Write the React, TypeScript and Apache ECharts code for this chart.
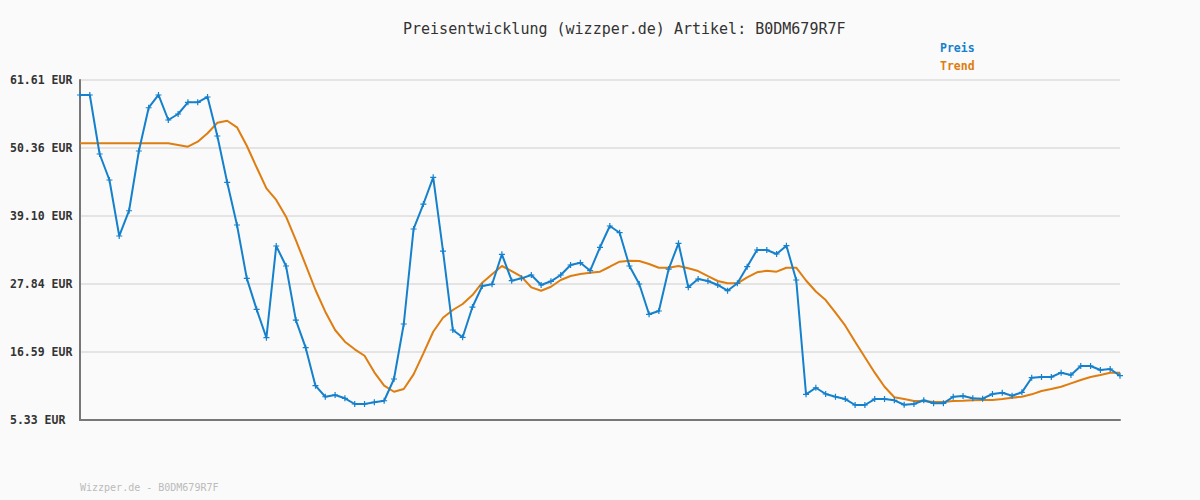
import React, { useEffect, useRef } from "react";
import * as echarts from "echarts";

const titleText = "Preisentwicklung (wizzper.de) Artikel: B0DM679R7F";
const footerText = "Wizzper.de - B0DM679R7F";
const seriesNames = ["Preis", "Trend"];
const yTickLabels = ["5.33 EUR", "16.59 EUR", "27.84 EUR", "39.10 EUR", "50.36 EUR", "61.61 EUR"];
const yMin = 5.33;
const yMax = 61.61;

const preis = [
  59.13, 59.13, 49.36, 45.06, 35.79, 39.97, 49.86, 57.02, 59.13, 54.99,
  55.98, 57.92, 57.92, 58.8, 52.34, 44.68, 37.61, 28.78, 23.65, 18.95,
  34.13, 30.82, 21.87, 17.3, 11.01, 9.18, 9.47, 8.92, 7.98, 7.98,
  8.26, 8.52, 12.12, 21.22, 36.95, 41.08, 45.5, 33.3, 20.23, 19.02,
  24.03, 27.51, 27.79, 32.76, 28.39, 28.78, 29.33, 27.68, 28.29, 29.33,
  30.99, 31.37, 30.04, 33.92, 37.44, 36.33, 30.82, 27.84, 22.83, 23.37,
  30.32, 34.58, 27.29, 28.67, 28.34, 27.68, 26.73, 27.96, 30.71, 33.47,
  33.47, 32.81, 34.18, 28.5, 9.58, 10.67, 9.63, 9.18, 8.8, 7.81,
  7.81, 8.8, 8.8, 8.59, 7.86, 7.98, 8.59, 8.09, 8.09, 9.18,
  9.3, 8.92, 8.86, 9.63, 9.85, 9.35, 9.91, 12.33, 12.45, 12.45,
  13.16, 12.78, 14.27, 14.27, 13.61, 13.77, 12.66,
];

const trend = [
  51.13, 51.13, 51.13, 51.13, 51.13, 51.13, 51.13, 51.13, 51.13, 51.13,
  50.85, 50.57, 51.4, 52.79, 54.54, 54.87, 53.78, 50.73, 47.16, 43.68,
  41.75, 38.98, 35.12, 30.99, 26.85, 23.26, 20.23, 18.29, 17.03, 15.97,
  13.22, 11.01, 10.01, 10.46, 12.89, 16.37, 19.94, 22.26, 23.54, 24.53,
  26.02, 28.06, 29.45, 30.82, 29.99, 29.05, 27.29, 26.73, 27.39, 28.5,
  29.16, 29.5, 29.71, 29.88, 30.7, 31.53, 31.7, 31.65, 31.15, 30.54,
  30.54, 30.82, 30.44, 29.99, 29.16, 28.34, 27.96, 27.96, 28.95, 29.78,
  30.04, 29.88, 30.54, 30.54, 28.42, 26.6, 25.19, 23.09, 20.94, 18.29,
  15.71, 13.16, 10.84, 9.09, 8.8, 8.47, 8.47, 8.31, 8.31, 8.47,
  8.52, 8.59, 8.64, 8.64, 8.8, 9.02, 9.18, 9.58, 10.13, 10.46,
  10.84, 11.4, 11.95, 12.45, 12.78, 13.16, 13.16,
];

const categories = preis.map((_, i) => String(i + 1));

const BLUE = "#1580cc";
const ORANGE = "#de7d10";
const MONO = "'DejaVu Sans Mono', 'Liberation Mono', monospace";

export default function App() {
  const ref = useRef<HTMLDivElement>(null);
  useEffect(() => {
    if (!ref.current) return;
    const chart = echarts.init(ref.current, null, { renderer: "svg" });
    const interval = (yMax - yMin) / 5;
    chart.setOption({
      animation: false,
      backgroundColor: "#fafafa",
      title: {
        text: titleText,
        left: 398,
        top: 16,
        textStyle: { fontFamily: MONO, fontSize: 15, fontWeight: "normal", color: "#333" },
      },
      legend: {
        orient: "vertical",
        left: 930,
        top: 37,
        itemWidth: 0,
        itemHeight: 0,
        itemGap: 6,
        icon: "none",
        data: [
          { name: seriesNames[0], textStyle: { color: BLUE } },
          { name: seriesNames[1], textStyle: { color: ORANGE } },
        ],
        textStyle: { fontFamily: MONO, fontSize: 11.5, fontWeight: "bold", padding: 0 },
      },
      graphic: [
        {
          type: "text",
          left: 80,
          top: 482,
          style: { text: footerText, fill: "#bbbbbb", font: `10px ${MONO}` },
        },
      ],
      grid: { left: 80, right: 80, top: 80, bottom: 80, containLabel: false },
      xAxis: {
        type: "category",
        data: categories,
        boundaryGap: false,
        axisLine: { show: true, lineStyle: { color: "#777", width: 2 } },
        axisTick: { show: false },
        axisLabel: { show: false },
        splitLine: { show: false },
      },
      yAxis: {
        type: "value",
        min: yMin,
        max: yMax,
        interval,
        axisLine: { show: true, lineStyle: { color: "#777", width: 2 } },
        axisTick: { show: false },
        splitLine: { show: true, lineStyle: { color: "#e4e4e4", width: 2 } },
        axisLabel: {
          align: "left",
          margin: 70,
          fontFamily: MONO,
          fontSize: 11.5,
          fontWeight: "bold",
          color: "#333",
          formatter: (v: number) => {
            const idx = Math.round((v - yMin) / interval);
            return yTickLabels[idx] ?? "";
          },
        },
      },
      series: [
        {
          name: seriesNames[1],
          type: "line",
          data: trend,
          smooth: false,
          showSymbol: false,
          symbol: "none",
          lineStyle: { color: ORANGE, width: 2 },
          itemStyle: { color: ORANGE },
          z: 2,
        },
        {
          name: seriesNames[0],
          type: "line",
          data: preis,
          smooth: false,
          symbol: "path://M2,0 L3,0 L3,2 L5,2 L5,3 L3,3 L3,5 L2,5 L2,3 L0,3 L0,2 L2,2 Z",
          symbolSize: 6,
          showAllSymbol: true,
          lineStyle: { color: BLUE, width: 2 },
          itemStyle: { color: BLUE },
          z: 3,
        },
      ],
    });
    return () => chart.dispose();
  }, []);
  return (
    <div
      ref={ref}
      style={{ position: "absolute", left: 0, top: 0, width: 1200, height: 500 }}
    />
  );
}
